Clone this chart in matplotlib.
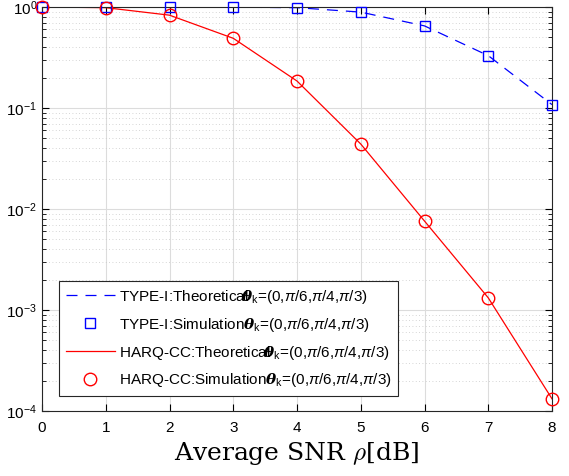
import numpy as np
import matplotlib.pyplot as plt

plt.rcParams['font.family'] = ['Liberation Sans', 'DejaVu Sans']
plt.rcParams['mathtext.fontset'] = 'custom'
plt.rcParams['mathtext.rm'] = 'Liberation Sans'
plt.rcParams['mathtext.it'] = 'Liberation Sans:italic'
plt.rcParams['mathtext.bf'] = 'DejaVu Serif:bold:italic'

# SNR points, dB
snr = [0, 1, 2, 3, 4, 5, 6, 7, 8]

# outage probability
type1_theo = [1.0, 0.999, 0.998, 0.996, 0.985, 0.89, 0.65, 0.33, 0.108]
type1_sim = [1.0, 0.999, 0.998, 0.996, 0.985, 0.89, 0.65, 0.33, 0.108]
harq_theo = [1.0, 0.985, 0.83, 0.49, 0.185, 0.044, 0.0076, 0.00132, 0.000132]
harq_sim = [1.0, 0.985, 0.83, 0.49, 0.185, 0.044, 0.0076, 0.00132, 0.000132]

angles = r'$\mathbf{\theta}_{\mathrm{k}}$=(0,$\pi$/6,$\pi$/4,$\pi$/3)'
# theta overlaps the trailing "l" in the original legend
overlap = r'$\!\!\!$'
labels = ['TYPE-I:Theoretical' + overlap + angles,
          'TYPE-I:Simulation' + angles,
          'HARQ-CC:Theoretical' + overlap + angles,
          'HARQ-CC:Simulation' + angles]

fig = plt.figure(figsize=(5.69, 4.76), dpi=100)
ax = fig.add_axes([42 / 569, 65 / 476, 510 / 569, 404 / 476])

ax.semilogy(snr, type1_theo, '--', color='blue', lw=0.9, dashes=(8.8, 6.4), label=labels[0])
ax.semilogy(snr, type1_sim, 's', color='blue', mfc='none', ms=7, mew=1.0,
            clip_on=False, zorder=5, label=labels[1])
ax.semilogy(snr, harq_theo, '-', color='red', lw=0.9, label=labels[2])
ax.semilogy(snr, harq_sim, 'o', color='red', mfc='none', ms=9, mew=1.0,
            clip_on=False, zorder=5, label=labels[3])

ax.set_xlim(0, 8)
ax.set_ylim(1e-4, 1)
ax.set_xticks(snr)
ax.grid(True, which='major', color='#dcdcdc', lw=0.8, ls='-')
ax.grid(True, which='minor', color='#c8c8c8', lw=0.6, ls=(0, (1, 3)))
ax.tick_params(which='both', direction='in', top=True, right=True, labelsize=11)
ax.tick_params(which='major', length=5)
ax.tick_params(which='minor', length=3)
ax.tick_params(axis='x', pad=7)
for s in ax.spines.values():
    s.set_color('#262626')
    s.set_linewidth(0.8)

ax.set_xlabel(r'Average SNR $\rho$[dB]', fontsize=18, family='DejaVu Serif',
              math_fontfamily='cm', labelpad=4)

leg = ax.legend(loc='lower left', bbox_to_anchor=(0.024, 0.025), fontsize=11,
                fancybox=False, framealpha=1, edgecolor='#262626',
                handlelength=3.2, handletextpad=0.27, labelspacing=0.65,
                borderpad=0.45, borderaxespad=0.3)
leg.get_frame().set_linewidth(0.8)

fig.savefig('out.png', dpi=100)
